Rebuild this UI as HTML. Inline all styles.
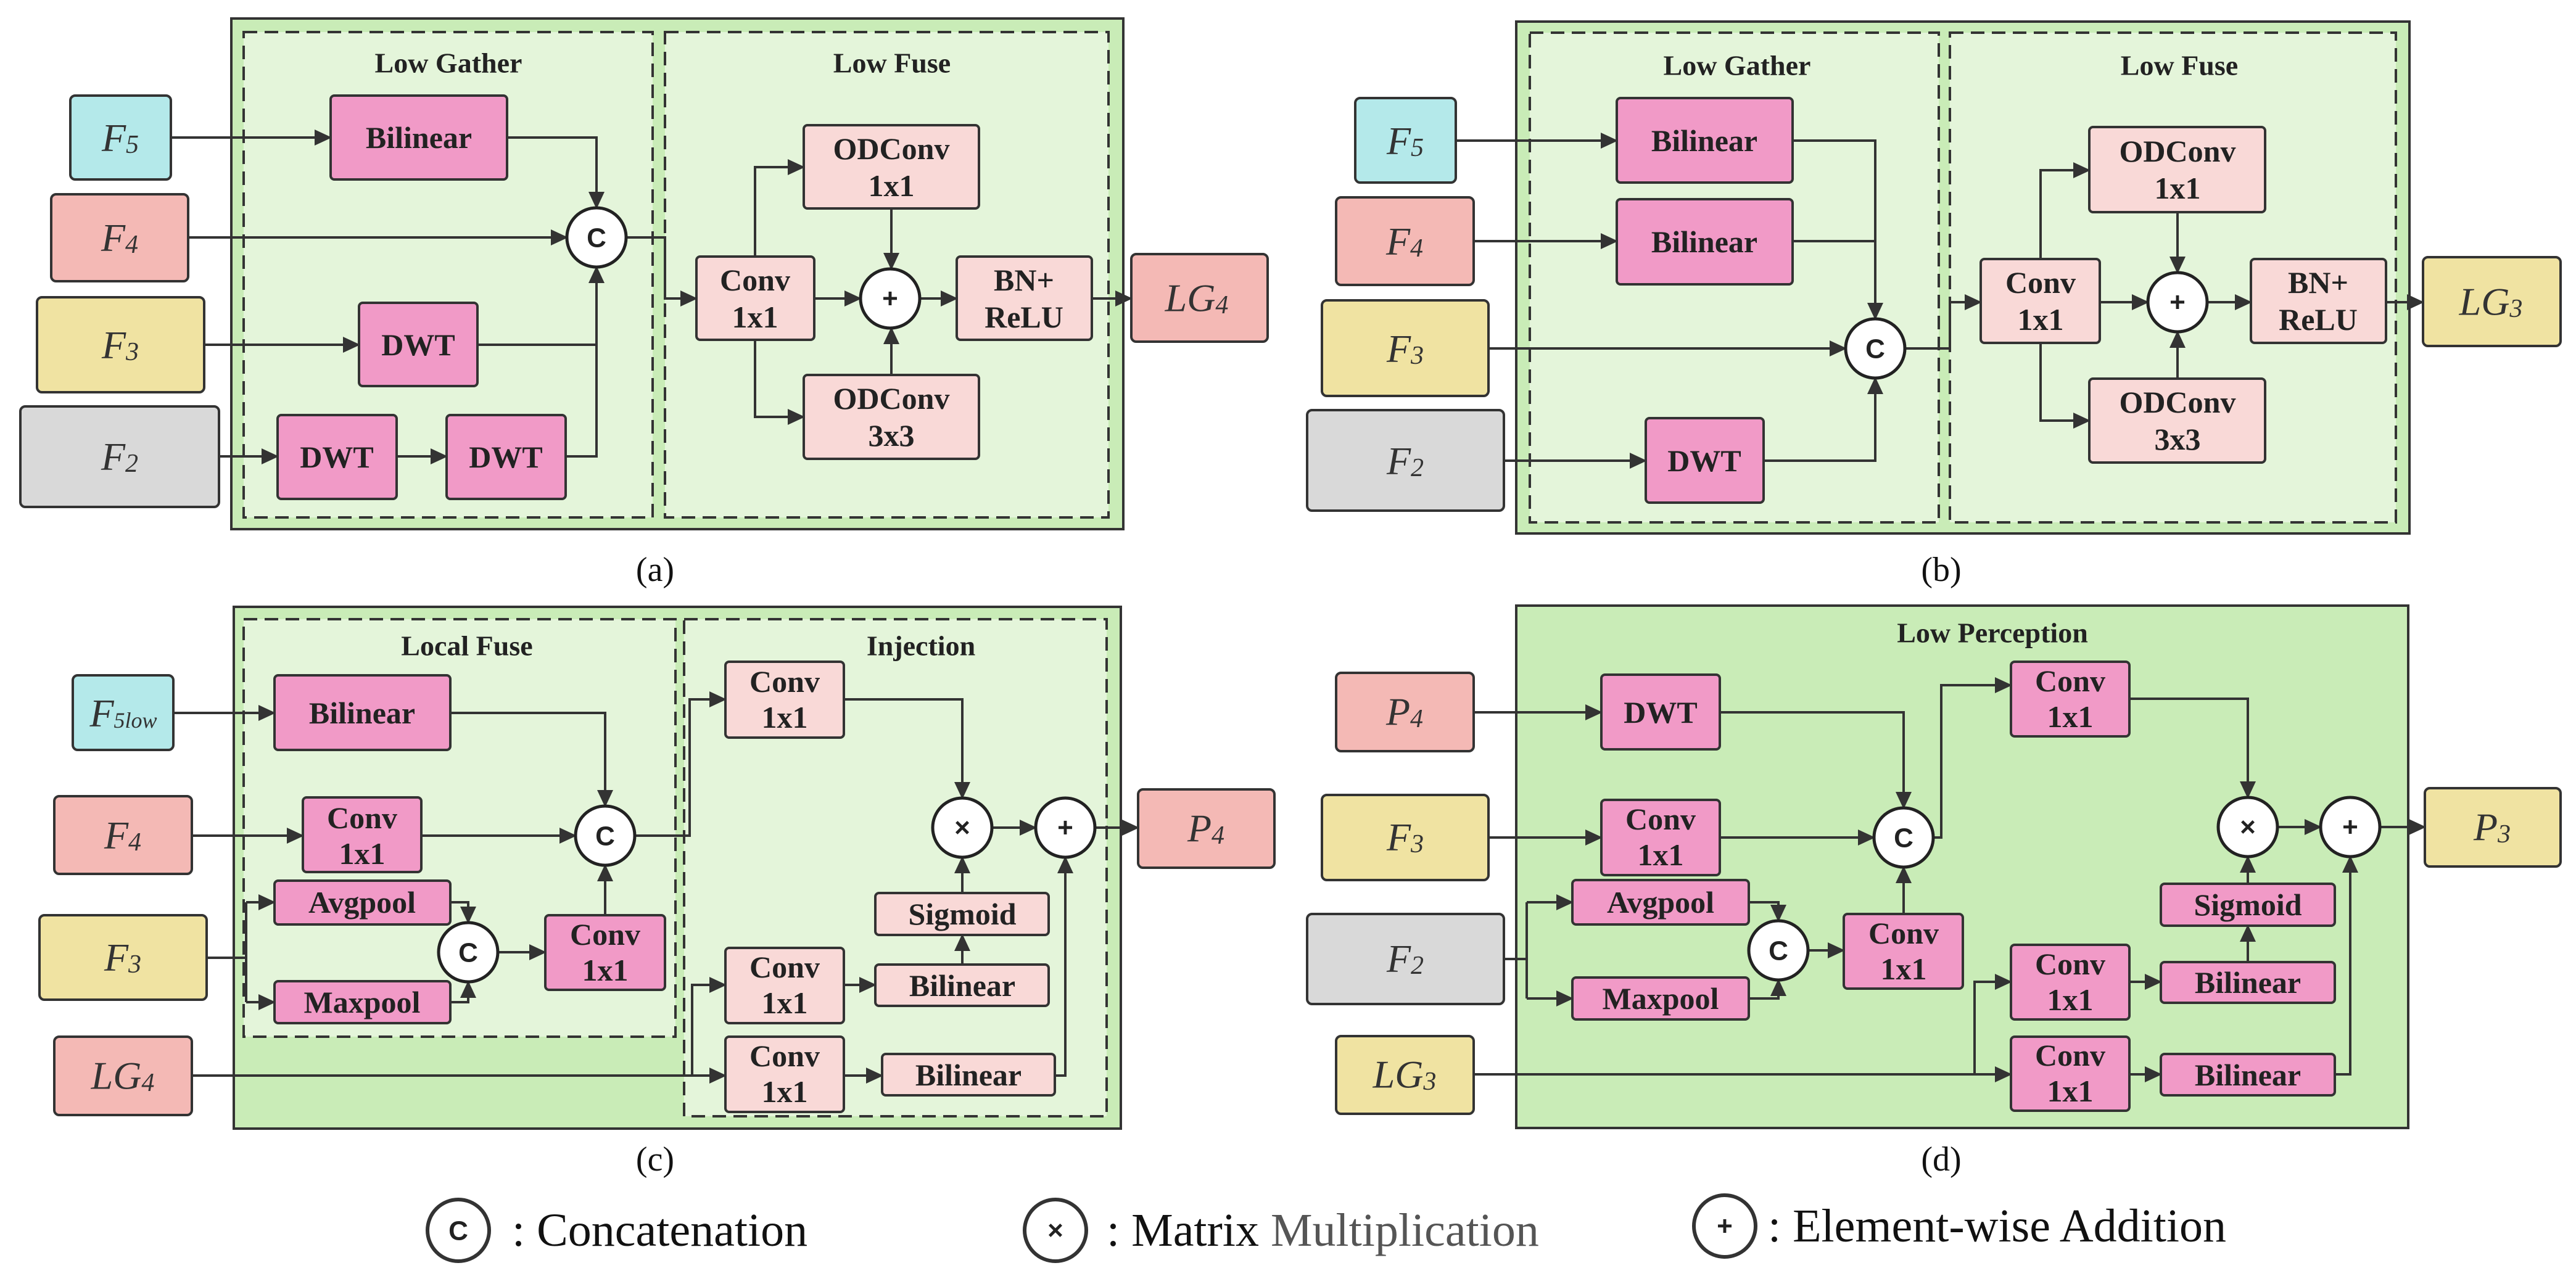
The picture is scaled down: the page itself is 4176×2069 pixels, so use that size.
<!DOCTYPE html>
<html><head><meta charset="utf-8"><style>
html,body{margin:0;padding:0;background:#fff;}
svg{display:block;}
.b{stroke:#333;stroke-width:4;}
.sp{fill:#f19ac7;}
.lp{fill:#f9d9d7;}
.t{font-family:"Liberation Serif","Times New Roman",Times,"DejaVu Serif",serif;font-weight:bold;font-size:50px;fill:#222;text-anchor:middle;dominant-baseline:central;}
.ti{font-family:"Liberation Serif","Times New Roman",Times,"DejaVu Serif",serif;font-weight:bold;font-size:46px;fill:#222;text-anchor:middle;dominant-baseline:central;}
.f{font-family:"Liberation Serif","Times New Roman",Times,"DejaVu Serif",serif;font-style:italic;font-size:64px;fill:#333;text-anchor:middle;dominant-baseline:central;}
.cap{font-family:"Liberation Serif","Times New Roman",Times,"DejaVu Serif",serif;font-size:56px;fill:#111;text-anchor:middle;dominant-baseline:central;}
.ln{fill:none;stroke:#333;stroke-width:4;}
.ci{fill:#fff;stroke:#222;stroke-width:5;}
.cs{font-family:"Liberation Sans",sans-serif;font-weight:bold;font-size:44px;fill:#222;text-anchor:middle;dominant-baseline:central;}
.lg{font-family:"Liberation Serif","Times New Roman",Times,"DejaVu Serif",serif;font-size:76px;fill:#111;dominant-baseline:central;}
.ds{fill:#e4f5da;stroke:#333;stroke-width:4;stroke-dasharray:22 12;}
</style></head><body>
<svg width="4176" height="2069" viewBox="0 0 4176 2069" xmlns="http://www.w3.org/2000/svg">
<defs><marker id="a" markerUnits="userSpaceOnUse" markerWidth="28" markerHeight="26" refX="26" refY="13" orient="auto"><path d="M0,0 L28,13 L0,26 z" fill="#333"/></marker></defs>

<!-- ========== (a) ========== -->
<rect x="375" y="30" width="1446" height="828" fill="#c9ecb7" class="b"/>
<rect x="395" y="52" width="663" height="787" class="ds"/>
<rect x="1078" y="52" width="719" height="787" class="ds"/>
<text class="ti" x="727" y="102">Low Gather</text>
<text class="ti" x="1446" y="102">Low Fuse</text>
<rect x="114" y="155" width="163" height="136" rx="8" fill="#b4e9ea" class="b"/><text class="f" x="195" y="223">F<tspan font-size="42" dy="12">5</tspan></text>
<rect x="83" y="315" width="222" height="141" rx="8" fill="#f4b9b5" class="b"/><text class="f" x="194" y="385">F<tspan font-size="42" dy="12">4</tspan></text>
<rect x="60" y="482" width="271" height="154" rx="8" fill="#f0e3a2" class="b"/><text class="f" x="195" y="559">F<tspan font-size="42" dy="12">3</tspan></text>
<rect x="33" y="659" width="322" height="163" rx="8" fill="#d9d9d9" class="b"/><text class="f" x="194" y="740">F<tspan font-size="42" dy="12">2</tspan></text>
<rect x="536" y="155" width="286" height="136" rx="6" class="b sp"/><text class="t" x="679" y="223">Bilinear</text>
<rect x="582" y="491" width="192" height="135" rx="6" class="b sp"/><text class="t" x="678" y="559">DWT</text>
<rect x="450" y="673" width="193" height="136" rx="6" class="b sp"/><text class="t" x="546" y="741">DWT</text>
<rect x="724" y="673" width="193" height="136" rx="6" class="b sp"/><text class="t" x="820" y="741">DWT</text>
<rect x="1129" y="416" width="191" height="135" rx="6" class="b lp"/><text class="t" x="1224" y="454">Conv</text><text class="t" x="1224" y="514">1x1</text>
<rect x="1303" y="203" width="284" height="135" rx="6" class="b lp"/><text class="t" x="1445" y="241">ODConv</text><text class="t" x="1445" y="301">1x1</text>
<rect x="1303" y="608" width="284" height="136" rx="6" class="b lp"/><text class="t" x="1445" y="646">ODConv</text><text class="t" x="1445" y="706">3x3</text>
<rect x="1551" y="416" width="219" height="135" rx="6" class="b lp"/><text class="t" x="1660" y="454">BN+</text><text class="t" x="1660" y="514">ReLU</text>
<rect x="1834" y="412" width="221" height="142" rx="8" fill="#f4b9b5" class="b"/><text class="f" x="1940" y="483">LG<tspan font-size="42" dy="12">4</tspan></text>
<g class="ln">
<path d="M277,223 H536" marker-end="url(#a)"/>
<path d="M822,223 H967 V337" marker-end="url(#a)"/>
<path d="M305,385 H919" marker-end="url(#a)"/>
<path d="M331,559 H582" marker-end="url(#a)"/>
<path d="M774,559 H967"/>
<path d="M355,740 H450" marker-end="url(#a)"/>
<path d="M643,740 H724" marker-end="url(#a)"/>
<path d="M917,740 H967 V433" marker-end="url(#a)"/>
<path d="M1015,385 H1078 V484 H1129" marker-end="url(#a)"/>
<path d="M1224,416 V271 H1303" marker-end="url(#a)"/>
<path d="M1224,551 V676 H1303" marker-end="url(#a)"/>
<path d="M1445,338 V436" marker-end="url(#a)"/>
<path d="M1445,608 V532" marker-end="url(#a)"/>
<path d="M1320,484 H1395" marker-end="url(#a)"/>
<path d="M1491,484 H1551" marker-end="url(#a)"/>
<path d="M1770,484 H1834" marker-end="url(#a)"/>
</g>
<circle cx="967" cy="385" r="48" class="ci"/><text class="cs" x="967" y="386">C</text>
<circle cx="1443" cy="484" r="48" class="ci"/><text class="cs" x="1443" y="484">+</text>
<text class="cap" x="1062" y="924">(a)</text>

<!-- ========== (b) ========== -->
<rect x="2458" y="35" width="1448" height="830" fill="#c9ecb7" class="b"/>
<rect x="2480" y="53" width="663" height="794" class="ds"/>
<rect x="3161" y="53" width="723" height="794" class="ds"/>
<text class="ti" x="2816" y="106">Low Gather</text>
<text class="ti" x="3533" y="106">Low Fuse</text>
<rect x="2197" y="159" width="163" height="137" rx="8" fill="#b4e9ea" class="b"/><text class="f" x="2278" y="228">F<tspan font-size="42" dy="12">5</tspan></text>
<rect x="2166" y="320" width="223" height="142" rx="8" fill="#f4b9b5" class="b"/><text class="f" x="2277" y="391">F<tspan font-size="42" dy="12">4</tspan></text>
<rect x="2143" y="487" width="270" height="155" rx="8" fill="#f0e3a2" class="b"/><text class="f" x="2278" y="565">F<tspan font-size="42" dy="12">3</tspan></text>
<rect x="2119" y="665" width="319" height="163" rx="8" fill="#d9d9d9" class="b"/><text class="f" x="2278" y="747">F<tspan font-size="42" dy="12">2</tspan></text>
<rect x="2621" y="159" width="285" height="137" rx="6" class="b sp"/><text class="t" x="2763" y="228">Bilinear</text>
<rect x="2621" y="323" width="285" height="138" rx="6" class="b sp"/><text class="t" x="2763" y="392">Bilinear</text>
<rect x="2668" y="678" width="191" height="137" rx="6" class="b sp"/><text class="t" x="2763" y="747">DWT</text>
<rect x="3211" y="420" width="193" height="136" rx="6" class="b lp"/><text class="t" x="3308" y="458">Conv</text><text class="t" x="3308" y="518">1x1</text>
<rect x="3387" y="206" width="285" height="138" rx="6" class="b lp"/><text class="t" x="3530" y="245">ODConv</text><text class="t" x="3530" y="305">1x1</text>
<rect x="3387" y="614" width="285" height="136" rx="6" class="b lp"/><text class="t" x="3530" y="652">ODConv</text><text class="t" x="3530" y="712">3x3</text>
<rect x="3649" y="420" width="219" height="136" rx="6" class="b lp"/><text class="t" x="3758" y="458">BN+</text><text class="t" x="3758" y="518">ReLU</text>
<rect x="3928" y="417" width="223" height="144" rx="8" fill="#f0e3a2" class="b"/><text class="f" x="4038" y="489">LG<tspan font-size="42" dy="12">3</tspan></text>
<g class="ln">
<path d="M2360,228 H2621" marker-end="url(#a)"/>
<path d="M2906,228 H3040 V517" marker-end="url(#a)"/>
<path d="M2389,391 H2621" marker-end="url(#a)"/>
<path d="M2906,391 H3040"/>
<path d="M2413,565 H2992" marker-end="url(#a)"/>
<path d="M2438,747 H2668" marker-end="url(#a)"/>
<path d="M2859,747 H3040 V613" marker-end="url(#a)"/>
<path d="M3088,565 H3161 V490 H3211" marker-end="url(#a)"/>
<path d="M3308,420 V276 H3387" marker-end="url(#a)"/>
<path d="M3308,556 V682 H3387" marker-end="url(#a)"/>
<path d="M3530,344 V442" marker-end="url(#a)"/>
<path d="M3530,614 V538" marker-end="url(#a)"/>
<path d="M3404,490 H3482" marker-end="url(#a)"/>
<path d="M3578,490 H3649" marker-end="url(#a)"/>
<path d="M3868,490 H3928" marker-end="url(#a)"/>
</g>
<circle cx="3040" cy="565" r="48" class="ci"/><text class="cs" x="3040" y="566">C</text>
<circle cx="3530" cy="490" r="48" class="ci"/><text class="cs" x="3530" y="490">+</text>
<text class="cap" x="3147" y="924">(b)</text>

<!-- ========== (c) ========== -->
<rect x="379" y="984" width="1438" height="846" fill="#c9ecb7" class="b"/>
<rect x="395" y="1004" width="700" height="677" class="ds"/>
<rect x="1109" y="1004" width="685" height="806" class="ds"/>
<text class="ti" x="757" y="1047">Local Fuse</text>
<text class="ti" x="1493" y="1047">Injection</text>
<rect x="118" y="1095" width="163" height="121" rx="8" fill="#b4e9ea" class="b"/><text class="f" x="200" y="1156" font-size="58">F<tspan font-size="36" dy="12">5<tspan font-style="italic">low</tspan></tspan></text>
<rect x="88" y="1291" width="223" height="126" rx="8" fill="#f4b9b5" class="b"/><text class="f" x="199" y="1354">F<tspan font-size="42" dy="12">4</tspan></text>
<rect x="64" y="1484" width="271" height="137" rx="8" fill="#f0e3a2" class="b"/><text class="f" x="199" y="1552">F<tspan font-size="42" dy="12">3</tspan></text>
<rect x="88" y="1681" width="223" height="127" rx="8" fill="#f4b9b5" class="b"/><text class="f" x="199" y="1744">LG<tspan font-size="42" dy="12">4</tspan></text>
<rect x="445" y="1095" width="285" height="121" rx="6" class="b sp"/><text class="t" x="587" y="1156">Bilinear</text>
<rect x="491" y="1293" width="192" height="121" rx="6" class="b sp"/><text class="t" x="587" y="1326">Conv</text><text class="t" x="587" y="1384">1x1</text>
<rect x="445" y="1428" width="285" height="71" rx="6" class="b sp"/><text class="t" x="587" y="1463">Avgpool</text>
<rect x="445" y="1591" width="285" height="68" rx="6" class="b sp"/><text class="t" x="587" y="1625">Maxpool</text>
<rect x="884" y="1484" width="194" height="121" rx="6" class="b sp"/><text class="t" x="981" y="1515">Conv</text><text class="t" x="981" y="1573">1x1</text>
<rect x="1176" y="1073" width="192" height="123" rx="6" class="b lp"/><text class="t" x="1272" y="1105">Conv</text><text class="t" x="1272" y="1163">1x1</text>
<rect x="1419" y="1448" width="281" height="68" rx="6" class="b lp"/><text class="t" x="1560" y="1482">Sigmoid</text>
<rect x="1419" y="1564" width="281" height="67" rx="6" class="b lp"/><text class="t" x="1560" y="1598">Bilinear</text>
<rect x="1176" y="1537" width="192" height="122" rx="6" class="b lp"/><text class="t" x="1272" y="1568">Conv</text><text class="t" x="1272" y="1626">1x1</text>
<rect x="1176" y="1681" width="192" height="122" rx="6" class="b lp"/><text class="t" x="1272" y="1712">Conv</text><text class="t" x="1272" y="1770">1x1</text>
<rect x="1430" y="1709" width="280" height="67" rx="6" class="b lp"/><text class="t" x="1570" y="1743">Bilinear</text>
<rect x="1845" y="1280" width="221" height="127" rx="8" fill="#f4b9b5" class="b"/><text class="f" x="1955" y="1343">P<tspan font-size="42" dy="12">4</tspan></text>
<g class="ln">
<path d="M281,1156 H445" marker-end="url(#a)"/>
<path d="M730,1156 H981 V1307" marker-end="url(#a)"/>
<path d="M311,1355 H491" marker-end="url(#a)"/>
<path d="M683,1355 H933" marker-end="url(#a)"/>
<path d="M335,1553 H399"/>
<path d="M399,1463 V1625"/>
<path d="M399,1463 H445" marker-end="url(#a)"/>
<path d="M399,1625 H445" marker-end="url(#a)"/>
<path d="M730,1463 H759 V1496" marker-end="url(#a)"/>
<path d="M730,1625 H759 V1592" marker-end="url(#a)"/>
<path d="M807,1544 H884" marker-end="url(#a)"/>
<path d="M981,1484 V1403" marker-end="url(#a)"/>
<path d="M1029,1355 H1118 V1134 H1176" marker-end="url(#a)"/>
<path d="M1368,1134 H1560 V1294" marker-end="url(#a)"/>
<path d="M311,1744 H1176" marker-end="url(#a)"/>
<path d="M1122,1744 V1597 H1176" marker-end="url(#a)"/>
<path d="M1368,1597 H1419" marker-end="url(#a)"/>
<path d="M1560,1564 V1516" marker-end="url(#a)"/>
<path d="M1560,1448 V1390" marker-end="url(#a)"/>
<path d="M1608,1342 H1679" marker-end="url(#a)"/>
<path d="M1775,1342 H1845" marker-end="url(#a)"/>
<path d="M1368,1744 H1430" marker-end="url(#a)"/>
<path d="M1710,1744 H1727 V1390" marker-end="url(#a)"/>
</g>
<circle cx="981" cy="1355" r="48" class="ci"/><text class="cs" x="981" y="1356">C</text>
<circle cx="759" cy="1544" r="48" class="ci"/><text class="cs" x="759" y="1545">C</text>
<circle cx="1560" cy="1342" r="48" class="ci"/><text class="cs" x="1560" y="1342">×</text>
<circle cx="1727" cy="1342" r="48" class="ci"/><text class="cs" x="1727" y="1342">+</text>
<text class="cap" x="1062" y="1880">(c)</text>

<!-- ========== (d) ========== -->
<rect x="2458" y="982" width="1446" height="847" fill="#c9ecb7" class="b"/>
<text class="ti" x="3230" y="1026">Low Perception</text>
<rect x="2166" y="1091" width="223" height="127" rx="8" fill="#f4b9b5" class="b"/><text class="f" x="2277" y="1154">P<tspan font-size="42" dy="12">4</tspan></text>
<rect x="2143" y="1289" width="270" height="138" rx="8" fill="#f0e3a2" class="b"/><text class="f" x="2278" y="1357">F<tspan font-size="42" dy="12">3</tspan></text>
<rect x="2119" y="1482" width="319" height="146" rx="8" fill="#d9d9d9" class="b"/><text class="f" x="2278" y="1554">F<tspan font-size="42" dy="12">2</tspan></text>
<rect x="2166" y="1680" width="223" height="126" rx="8" fill="#f0e3a2" class="b"/><text class="f" x="2277" y="1742">LG<tspan font-size="42" dy="12">3</tspan></text>
<rect x="2596" y="1094" width="192" height="121" rx="6" class="b sp"/><text class="t" x="2692" y="1155">DWT</text>
<rect x="2596" y="1297" width="192" height="122" rx="6" class="b sp"/><text class="t" x="2692" y="1328">Conv</text><text class="t" x="2692" y="1386">1x1</text>
<rect x="2549" y="1427" width="286" height="72" rx="6" class="b sp"/><text class="t" x="2692" y="1463">Avgpool</text>
<rect x="2549" y="1585" width="286" height="68" rx="6" class="b sp"/><text class="t" x="2692" y="1619">Maxpool</text>
<rect x="2989" y="1482" width="193" height="121" rx="6" class="b sp"/><text class="t" x="3086" y="1513">Conv</text><text class="t" x="3086" y="1571">1x1</text>
<rect x="3260" y="1073" width="192" height="121" rx="6" class="b sp"/><text class="t" x="3356" y="1104">Conv</text><text class="t" x="3356" y="1162">1x1</text>
<rect x="3503" y="1433" width="282" height="68" rx="6" class="b sp"/><text class="t" x="3644" y="1467">Sigmoid</text>
<rect x="3503" y="1560" width="282" height="66" rx="6" class="b sp"/><text class="t" x="3644" y="1593">Bilinear</text>
<rect x="3260" y="1532" width="192" height="121" rx="6" class="b sp"/><text class="t" x="3356" y="1563">Conv</text><text class="t" x="3356" y="1621">1x1</text>
<rect x="3260" y="1681" width="192" height="120" rx="6" class="b sp"/><text class="t" x="3356" y="1711">Conv</text><text class="t" x="3356" y="1769">1x1</text>
<rect x="3503" y="1709" width="282" height="67" rx="6" class="b sp"/><text class="t" x="3644" y="1743">Bilinear</text>
<rect x="3931" y="1278" width="220" height="127" rx="8" fill="#f0e3a2" class="b"/><text class="f" x="4040" y="1341">P<tspan font-size="42" dy="12">3</tspan></text>
<g class="ln">
<path d="M2389,1155 H2596" marker-end="url(#a)"/>
<path d="M2788,1155 H3086 V1310" marker-end="url(#a)"/>
<path d="M2413,1358 H2596" marker-end="url(#a)"/>
<path d="M2788,1358 H3038" marker-end="url(#a)"/>
<path d="M2438,1555 H2475"/>
<path d="M2475,1463 V1619"/>
<path d="M2475,1463 H2549" marker-end="url(#a)"/>
<path d="M2475,1619 H2549" marker-end="url(#a)"/>
<path d="M2835,1463 H2883 V1493" marker-end="url(#a)"/>
<path d="M2835,1619 H2883 V1589" marker-end="url(#a)"/>
<path d="M2931,1541 H2989" marker-end="url(#a)"/>
<path d="M3086,1482 V1406" marker-end="url(#a)"/>
<path d="M3134,1358 H3147 V1111 H3260" marker-end="url(#a)"/>
<path d="M3452,1133 H3644 V1293" marker-end="url(#a)"/>
<path d="M2389,1742 H3260" marker-end="url(#a)"/>
<path d="M3201,1742 V1592 H3260" marker-end="url(#a)"/>
<path d="M3452,1592 H3503" marker-end="url(#a)"/>
<path d="M3644,1560 V1501" marker-end="url(#a)"/>
<path d="M3644,1433 V1389" marker-end="url(#a)"/>
<path d="M3692,1341 H3762" marker-end="url(#a)"/>
<path d="M3858,1341 H3931" marker-end="url(#a)"/>
<path d="M3452,1742 H3503" marker-end="url(#a)"/>
<path d="M3785,1742 H3810 V1389" marker-end="url(#a)"/>
</g>
<circle cx="3086" cy="1358" r="48" class="ci"/><text class="cs" x="3086" y="1359">C</text>
<circle cx="2883" cy="1541" r="48" class="ci"/><text class="cs" x="2883" y="1542">C</text>
<circle cx="3644" cy="1341" r="48" class="ci"/><text class="cs" x="3644" y="1341">×</text>
<circle cx="3810" cy="1341" r="48" class="ci"/><text class="cs" x="3810" y="1341">+</text>
<text class="cap" x="3147" y="1880">(d)</text>

<!-- ========== legend ========== -->
<circle cx="743" cy="1995" r="50" fill="#fff" stroke="#333" stroke-width="6"/><text class="cs" x="743" y="1996">C</text>
<text class="lg" x="830" y="1995">: Concatenation</text>
<circle cx="1711" cy="1995" r="50" fill="#fff" stroke="#333" stroke-width="6"/><text class="cs" x="1711" y="1995">×</text>
<text class="lg" x="1794" y="1995">: Matrix <tspan fill="#555">Multiplication</tspan></text>
<circle cx="2796" cy="1988" r="50" fill="#fff" stroke="#333" stroke-width="6"/><text class="cs" x="2796" y="1988">+</text>
<text class="lg" x="2866" y="1988">: Element-wise Addition</text>
</svg>
</body></html>
